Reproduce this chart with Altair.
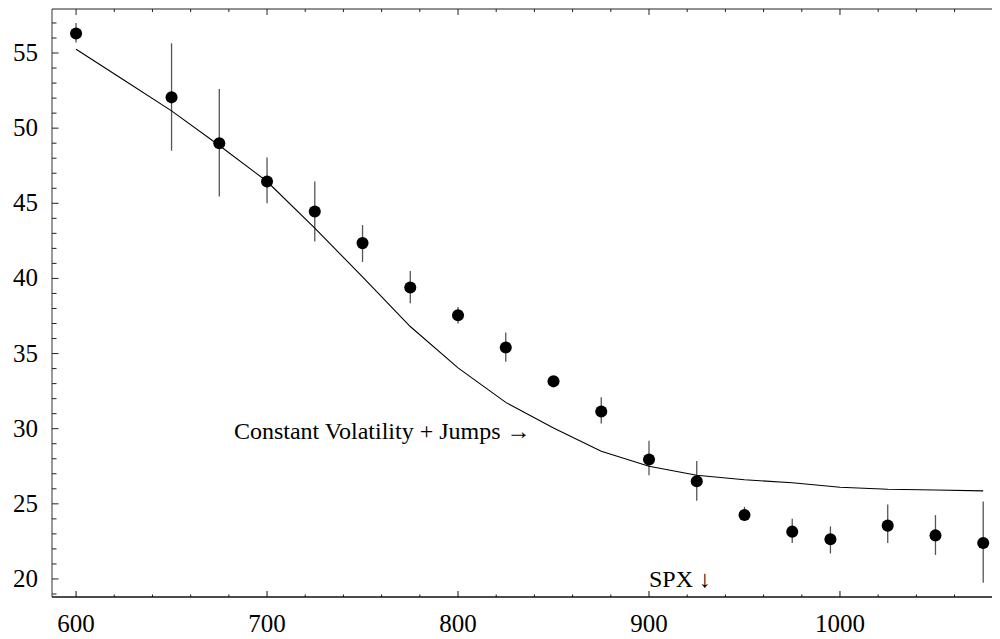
import altair as alt
import pandas as pd

# ---- data ----
strikes = [600, 650, 675, 700, 725, 750, 775, 800, 825, 850, 875, 900, 925, 950, 975, 995, 1025, 1050, 1075]
implied_vol = [56.3, 52.05, 49.0, 46.45, 44.45, 42.35, 39.4, 37.55, 35.4, 33.15, 31.15, 27.95, 26.5, 24.25, 23.15, 22.65, 23.55, 22.9, 22.4]
vol_low = [55.7, 48.5, 45.45, 45.0, 42.45, 41.1, 38.35, 37.0, 34.45, 32.9, 30.35, 26.9, 25.2, 23.95, 22.4, 21.7, 22.4, 21.6, 19.75]
vol_high = [57.0, 55.65, 52.6, 48.05, 46.45, 43.55, 40.5, 38.1, 36.4, 33.4, 32.1, 29.2, 27.85, 24.8, 24.0, 23.5, 24.95, 24.25, 25.15]

model_strikes = [600, 625, 650, 675, 700, 725, 750, 775, 800, 825, 850, 875, 900, 925, 950, 975, 1000, 1025, 1050, 1075]
model_vol = [55.25, 53.2, 51.15, 48.85, 46.45, 43.35, 40.1, 36.8, 34.05, 31.75, 30.05, 28.5, 27.5, 26.9, 26.6, 26.4, 26.1, 25.97, 25.92, 25.86]

x_major = [600, 700, 800, 900, 1000]
x_minor = [620, 640, 660, 680, 720, 740, 760, 780, 820, 840, 860, 880,
           920, 940, 960, 980, 1020, 1040, 1060]
y_major = [20, 25, 30, 35, 40, 45, 50, 55]
y_minor = [19, 21, 22, 23, 24, 26, 27, 28, 29, 31, 32, 33, 34, 36, 37, 38,
           39, 41, 42, 43, 44, 46, 47, 48, 49, 51, 52, 53, 54, 56, 57]

annot_text = ["Constant Volatility + Jumps \u2192"]
annot_x = [838]
annot_y = [29.8]
spx_text = ["SPX \u2193"]
spx_x = [900]
spx_y = [19.95]

FONT = "'Liberation Serif', 'DejaVu Serif', serif"
W, H = 940, 588
XMIN, XMAX = 587.4, 1079.6
YMIN, YMAX = 18.8, 57.93
PX_X = W / (XMAX - XMIN)   # pixels per x unit
PX_Y = H / (YMAX - YMIN)   # pixels per y unit

pts = pd.DataFrame({"strike": strikes, "vol": implied_vol, "lo": vol_low, "hi": vol_high})
model = pd.DataFrame({"strike": model_strikes, "vol": model_vol})
ann = pd.DataFrame({"x": annot_x, "y": annot_y, "label": annot_text})
spx = pd.DataFrame({"x": spx_x, "y": spx_y, "label": spx_text})

xs = alt.Scale(domain=[XMIN, XMAX], nice=False, zero=False)
ys = alt.Scale(domain=[YMIN, YMAX], nice=False, zero=False)


def X(field):
    return alt.X(field, scale=xs, axis=None)


def Y(field):
    return alt.Y(field, scale=ys, axis=None)


err = alt.Chart(pts).mark_rule(color="#555", strokeWidth=1.3).encode(
    x=X("strike:Q"), y=Y("lo:Q"), y2="hi:Q")
dots = alt.Chart(pts).mark_circle(size=145, color="black", opacity=1).encode(
    x=X("strike:Q"), y=Y("vol:Q"))
curve = alt.Chart(model).mark_line(color="black", strokeWidth=1.1).encode(
    x=X("strike:Q"), y=Y("vol:Q"))
ann_text = alt.Chart(ann).mark_text(font=FONT, fontSize=24, align="right", baseline="middle",
                                    color="black").encode(
    x=X("x:Q"), y=Y("y:Q"), text="label:N")
spx_mark = alt.Chart(spx).mark_text(font=FONT, fontSize=24, align="left", baseline="middle",
                                    color="black").encode(
    x=X("x:Q"), y=Y("y:Q"), text="label:N")

# tick labels as text placed through the scales just outside the frame
xlab_df = pd.DataFrame({"v": x_major, "y": [YMIN - 26.5 / PX_Y] * len(x_major),
                        "t": [str(v) for v in x_major]})
ylab_df = pd.DataFrame({"v": y_major, "x": [XMIN - 14 / PX_X] * len(y_major),
                        "t": [str(v) for v in y_major]})
x_labels = alt.Chart(xlab_df).mark_text(font=FONT, fontSize=25, align="center", baseline="middle",
                                        color="black").encode(
    x=X("v:Q"), y=Y("y:Q"), text="t:N")
y_labels = alt.Chart(ylab_df).mark_text(font=FONT, fontSize=25, align="right", baseline="middle",
                                        color="black").encode(
    y=Y("v:Q"), x=X("x:Q"), text="t:N")

# frame lines
left_frame = alt.Chart(pd.DataFrame({"x": [XMIN], "a": [YMIN], "b": [YMAX]})).mark_rule(
    color="#555", strokeWidth=1.2).encode(x=X("x:Q"), y=Y("a:Q"), y2="b:Q")
bottom_frame = alt.Chart(pd.DataFrame({"y": [YMIN], "a": [XMIN], "b": [XMAX]})).mark_rule(
    color="#111", strokeWidth=1.6).encode(y=Y("y:Q"), x=X("a:Q"), x2="b:Q")
top_frame = alt.Chart(pd.DataFrame({"y": [YMAX], "a": [XMIN], "b": [XMAX]})).mark_rule(
    color="#222", strokeWidth=1.2).encode(y=Y("y:Q"), x=X("a:Q"), x2="b:Q")


# frame ticks pointing inward (Mathematica style), drawn through the scales
def xtick_df(values, edge, length_px, direction):
    return pd.DataFrame({"v": values, "a": [edge] * len(values),
                         "b": [edge + direction * length_px / PX_Y] * len(values)})


def ytick_df(values, edge, length_px, direction):
    return pd.DataFrame({"v": values, "a": [edge] * len(values),
                         "b": [edge + direction * length_px / PX_X] * len(values)})


def xticks(df, color="#111"):
    return alt.Chart(df).mark_rule(color=color, strokeWidth=1).encode(
        x=X("v:Q"), y=Y("a:Q"), y2="b:Q")


def yticks(df, color="#222"):
    return alt.Chart(df).mark_rule(color=color, strokeWidth=1).encode(
        y=Y("v:Q"), x=X("a:Q"), x2="b:Q")


bottom_major = xticks(xtick_df(x_major, YMIN, 6, 1))
bottom_minor = xticks(xtick_df(x_minor, YMIN, 2.5, 1))
top_major = xticks(xtick_df(x_major, YMAX, 6, -1), "#222")
top_minor = xticks(xtick_df(x_minor, YMAX, 3, -1), "#222")
left_major = yticks(ytick_df(y_major, XMIN, 6.5, 1))
left_minor = yticks(ytick_df(y_minor, XMIN, 4.5, 1))

chart = alt.layer(
    err, curve, dots, ann_text, spx_mark, x_labels, y_labels,
    left_frame, bottom_frame, top_frame,
    bottom_major, bottom_minor, top_major, top_minor, left_major, left_minor,
).properties(
    width=W, height=H,
    autosize=alt.AutoSizeParams(type="none"),
    padding={"left": 44, "top": 1, "right": 0, "bottom": 36},
    background="white",
).configure_view(stroke=None)

chart.save("out.html", embed_options={"renderer": "svg", "actions": False})
